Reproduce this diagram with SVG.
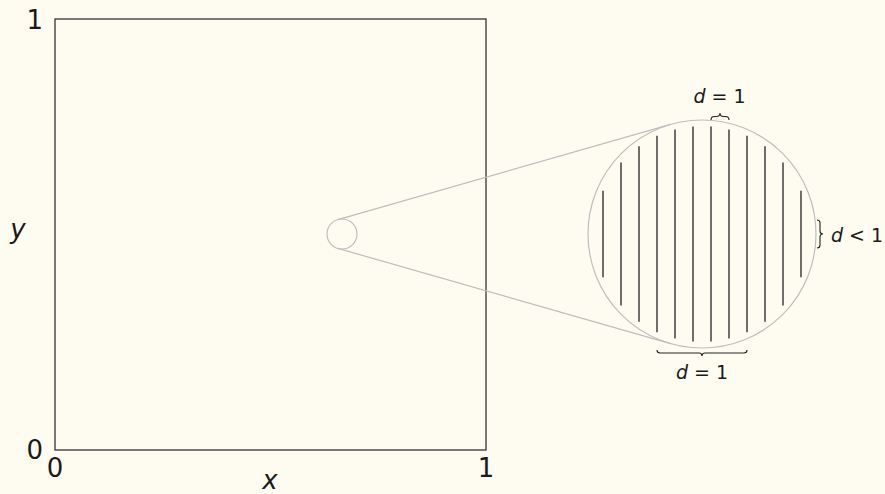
<svg xmlns="http://www.w3.org/2000/svg" width="885" height="494" viewBox="0 0 885 494">
<style>
.big{font-family:"DejaVu Sans",sans-serif;font-size:26px;fill:#1a1a1a}
.sm{font-family:"DejaVu Sans",sans-serif;font-size:19px;fill:#1a1a1a}
.it{font-style:italic}
.frame{fill:none;stroke:#333;stroke-width:1.3}
.lens{fill:none;stroke:#bdbdbd;stroke-width:1.2}
.hatch{stroke:#333;stroke-width:1.4}
.brace{fill:none;stroke:#222;stroke-width:1.1}
</style>
<rect width="885" height="494" fill="#fefcf0"/>
<g id="square">
<rect class="frame" x="55" y="19" width="431" height="431"/>
<text class="big" x="43" y="29" text-anchor="end">1</text>
<text class="big" x="43" y="459" text-anchor="end">0</text>
<text class="big" x="55" y="477" text-anchor="middle">0</text>
<text class="big" x="486" y="477" text-anchor="middle">1</text>
<text class="big it" x="18" y="238" text-anchor="middle">y</text>
<text class="big it" x="270" y="489" text-anchor="middle">x</text>
</g>
<g id="connectors">
<line class="lens" x1="337.9" y1="219.6" x2="670.6" y2="124.3"/>
<line class="lens" x1="337.9" y1="248.4" x2="670.6" y2="343.7"/>
</g>
<g id="small-circle">
<circle class="lens" cx="342" cy="234" r="15"/>
</g>
<g id="zoom-circle">
<circle class="lens" cx="702" cy="234" r="114"/>
<g class="hatch">
<line x1="603" y1="190.8" x2="603" y2="277.2"/>
<line x1="621" y1="162.6" x2="621" y2="305.4"/>
<line x1="639" y1="146.3" x2="639" y2="321.7"/>
<line x1="657" y1="135.8" x2="657" y2="332.2"/>
<line x1="675" y1="129.4" x2="675" y2="338.6"/>
<line x1="693" y1="126.4" x2="693" y2="341.6"/>
<line x1="711" y1="126.4" x2="711" y2="341.6"/>
<line x1="729" y1="129.4" x2="729" y2="338.6"/>
<line x1="747" y1="135.8" x2="747" y2="332.2"/>
<line x1="765" y1="146.3" x2="765" y2="321.7"/>
<line x1="783" y1="162.6" x2="783" y2="305.4"/>
<line x1="801" y1="190.8" x2="801" y2="277.2"/>
</g>
</g>
<g id="brace-top">
<path class="brace" d="M711 120 Q711 116.5 714.5 116.5 L716.5 116.5 Q720 116.5 720 113 Q720 116.5 723.5 116.5 L725.5 116.5 Q729 116.5 729 120"/>
<text class="sm" x="719.5" y="103" text-anchor="middle"><tspan class="it">d</tspan> = 1</text>
</g>
<g id="brace-bottom">
<path class="brace" d="M657 350 Q657 353 660 353 L699 353 Q702 353 702 356 Q702 353 705 353 L744 353 Q747 353 747 350"/>
<text class="sm" x="702" y="379" text-anchor="middle"><tspan class="it">d</tspan> = 1</text>
</g>
<g id="brace-right">
<path class="brace" d="M817 220 Q820 220 820 223 L820 231 Q820 234 823 234 Q820 234 820 237 L820 245 Q820 248 817 248"/>
<text class="sm" x="831" y="242"><tspan class="it">d</tspan> &lt; 1</text>
</g>
</svg>
